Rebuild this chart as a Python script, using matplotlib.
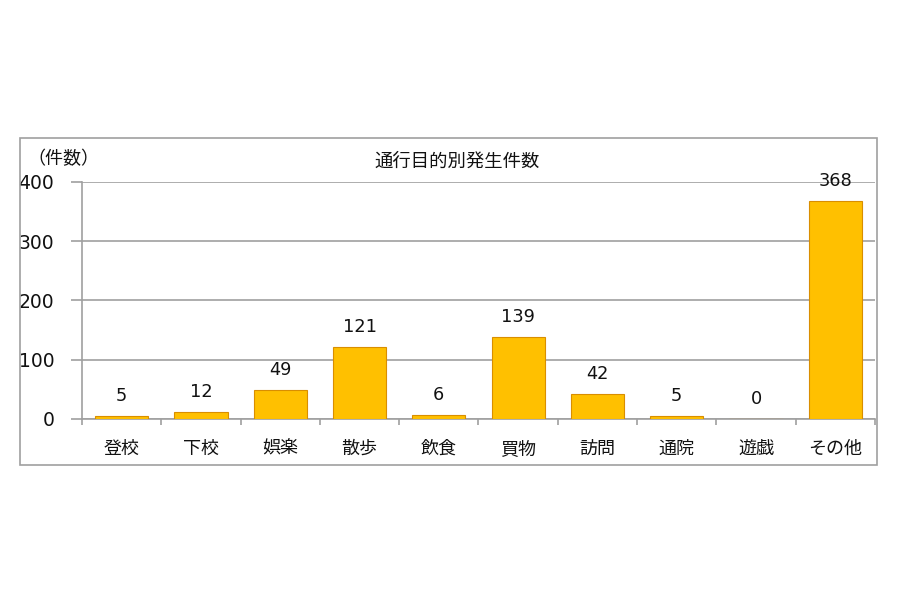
import matplotlib
matplotlib.use("Agg")
import matplotlib.pyplot as plt
from matplotlib.patches import Rectangle
import numpy as np

plt.rcParams['font.family'] = ['DejaVu Sans', 'Noto Sans CJK JP']

categories = ['登校', '下校', '娯楽', '散歩', '飲食', '買物', '訪問', '通院', '遊戯', 'その他']
values = [5, 12, 49, 121, 6, 139, 42, 5, 0, 368]
yticks = [0, 100, 200, 300, 400]
title = '通行目的別発生件数'
ylabel = '（件数）'

fig = plt.figure(figsize=(9, 6), dpi=100)
fig.patch.set_facecolor('white')

# outer frame
fig.patches.append(Rectangle((0.0222, 0.225), 0.9522, 0.545, transform=fig.transFigure,
                             fill=False, edgecolor='#A0A0A0', linewidth=1.2))

ax = fig.add_axes([0.0911, 0.3017, 0.8811, 0.395])
x = np.arange(len(categories))
ax.bar(x, values, width=0.67, color='#FFC000', edgecolor='#D98E00', linewidth=0.8, zorder=3)
for xi, v in zip(x, values):
    ax.annotate(str(v), (xi, v), xytext=(0, 8), textcoords='offset points',
                ha='center', va='bottom', fontsize=12.8, color='#111111')

ax.set_xlim(-0.5, len(categories) - 0.5)
ax.set_ylim(0, 400)
ax.set_yticks(yticks)
ax.set_yticklabels([str(t) for t in yticks], fontsize=13.5, color='#111111')
ax.yaxis.grid(True, color='#A0A0A0', linewidth=1.2, zorder=0)
ax.set_axisbelow(True)

ax.set_xticks(x)
ax.set_xticklabels(categories, fontsize=13, family=['Noto Sans CJK JP', 'DejaVu Sans'],
                   color='#111111')
ax.set_xticks(np.arange(len(categories) + 1) - 0.5, minor=True)
ax.tick_params(axis='x', which='major', length=0, pad=15)
ax.tick_params(axis='x', which='minor', length=4, color='#A0A0A0', width=1.2)
ax.tick_params(axis='y', length=8, color='#A0A0A0', width=1.2, pad=12)

for s in ['top', 'right']:
    ax.spines[s].set_visible(False)
for s in ['left', 'bottom']:
    ax.spines[s].set_color('#A0A0A0')
    ax.spines[s].set_linewidth(1.2)

fig.text(0.508, 0.731, title, ha='center', va='center', fontsize=13.2,
         family=['Noto Sans CJK JP', 'DejaVu Sans'], color='#111111')
fig.text(0.030, 0.735, ylabel, ha='left', va='center', fontsize=13,
         family=['Noto Sans CJK JP', 'DejaVu Sans'], color='#111111')

fig.savefig('out.png', dpi=100, facecolor='white')
